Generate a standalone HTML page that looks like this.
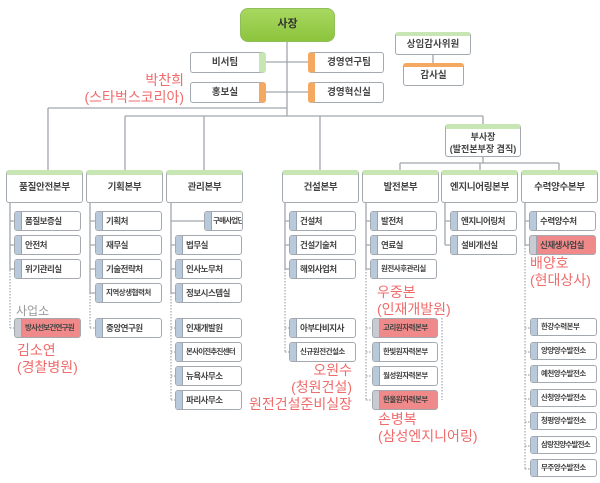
<!DOCTYPE html>
<html><head><meta charset="utf-8"><style>
*{margin:0;padding:0;box-sizing:border-box}
body{width:600px;height:483px;background:#fff;position:relative;overflow:hidden;font-family:"Liberation Sans","Noto Sans CJK KR",sans-serif;color:#333}
svg{position:absolute;left:0;top:0}
.b{position:absolute;height:20px;width:67px;border:1px solid #a4a9b0;border-radius:3px;background:#fff;font-size:8.5px;line-height:18px;padding-left:10px;white-space:nowrap;overflow:hidden;letter-spacing:-0.5px;font-weight:bold;color:#444}
.b:before{content:"";position:absolute;left:0;top:0;bottom:0;width:6px;background:#b9c9dc;border-right:1px solid #9aa4b0}
.p{background:#f08a8a}
.p:before{background:#c8ccd2}
.d{position:absolute;top:170px;height:33px;width:77px;border:1px solid #a4a9b0;border-top:5px solid #c8e6b4;border-radius:3px;background:#fff;text-align:center;font-size:9.5px;line-height:26px;font-weight:bold;color:#444;white-space:nowrap;letter-spacing:-0.3px}
.t{position:absolute;height:21px;width:76px;border:1px solid #a4a9b0;border-radius:3px;background:#fff;text-align:center;font-size:9.5px;line-height:19px;font-weight:bold;color:#444}
.r{position:absolute;color:#f06b6b;font-size:14px;line-height:17px;white-space:nowrap}
.s{font-size:7.5px}
</style></head><body>
<svg width="600" height="483">
<g stroke="#a0a6ae" stroke-width="1.3" fill="none">
<path d="M287 42V116M266 62H308M266 92H308M48 108H287M48 108V170M125 116H483M125 116V170M204 116V170M320 116V170M483 116V124M433 55V63M483 157V163M400 163H559M400 163V170M480 163V170M559 163V170"/>
<path d="M10 203V270M10 221H14M10 245H14M10 269H14M90 203V293M90 221H95M90 245H95M90 269H95M90 293H95M171 203V293M171 221H204M171 245H175M171 269H175M171 293H175M285 203V269M285 221H289M285 245H289M285 269H289M366 203V269M366 221H370M366 245H370M366 269H370M445 203V245M445 221H450M445 245H450M525 203V245M525 221H529M525 245H529"/>
</g>
<g stroke="#a0a6ae" stroke-width="1.2" fill="none" stroke-dasharray="1.5 1.5">
<path d="M10 270V328M10 328H14M90 293V328M90 328H95M171 293V400M171 328H175M171 352H175M171 376H175M171 400H175M285 269V352M285 328H289M285 352H289M366 269V400M366 328H372M366 352H372M366 376H372M366 400H372M442 318V400M525 245V469M525 328H530M525 352H530M525 375H530M525 399H530M525 422H530M525 446H530M525 469H530"/>
</g>
</svg>
<div style="position:absolute;left:240px;top:8px;width:95px;height:34px;border:1.5px solid #8fbf5a;border-radius:8px;background:linear-gradient(#a8d860,#8cc43c);text-align:center;line-height:31px;font-size:11px;font-weight:bold;color:#333">사장</div>
<div class="t" style="left:190px;top:52px;border-right:7px solid #c8e6b4">비서팀</div>
<div class="t p" style="left:190px;top:82px;border-right:7px solid #f5a860">홍보실</div>
<div class="t" style="left:308px;top:52px;border-left:7px solid #f5a860">경영연구팀</div>
<div class="t" style="left:308px;top:82px;border-left:7px solid #f5a860">경영혁신실</div>
<div class="t" style="left:395px;top:32px;height:23px;border-top:4px solid #c8e6b4;line-height:17px">상임감사위원</div>
<div class="t" style="left:403px;top:63px;width:61px;height:23px;border-top:4px solid #f5a860;line-height:17px">감사실</div>
<div class="t" style="left:445px;top:124px;height:33px;border-top:5px solid #c8e6b4;line-height:12px;padding-top:2px;font-size:9px">부사장<br>(발전본부장 겸직)</div>

<div class="d" style="left:6px">품질안전본부</div>
<div class="d" style="left:86px">기획본부</div>
<div class="d" style="left:166px">관리본부</div>
<div class="d" style="left:282px">건설본부</div>
<div class="d" style="left:362px">발전본부</div>
<div class="d" style="left:441px">엔지니어링본부</div>
<div class="d" style="left:521px">수력양수본부</div>

<div class="b" style="left:14px;top:211px">품질보증실</div>
<div class="b" style="left:14px;top:235px">안전처</div>
<div class="b" style="left:14px;top:259px">위기관리실</div>
<div class="b p s" style="left:14px;top:318px;letter-spacing:-0.8px">방사선보건연구원</div>

<div class="b" style="left:95px;top:211px">기획처</div>
<div class="b" style="left:95px;top:235px">재무실</div>
<div class="b" style="left:95px;top:259px">기술전략처</div>
<div class="b s" style="left:95px;top:283px">지역상생협력처</div>
<div class="b" style="left:95px;top:318px">중앙연구원</div>

<div class="b s" style="left:204px;top:211px;width:39px;padding-left:8px;letter-spacing:-0.8px">구매사업단</div>
<div class="b" style="left:175px;top:235px">법무실</div>
<div class="b" style="left:175px;top:259px">인사노무처</div>
<div class="b" style="left:175px;top:283px">정보시스템실</div>
<div class="b" style="left:175px;top:318px">인재개발원</div>
<div class="b s" style="left:175px;top:342px;letter-spacing:-0.8px">본사이전추진센터</div>
<div class="b" style="left:175px;top:366px">뉴욕사무소</div>
<div class="b" style="left:175px;top:390px">파리사무소</div>

<div class="b" style="left:289px;top:211px">건설처</div>
<div class="b" style="left:289px;top:235px">건설기술처</div>
<div class="b" style="left:289px;top:259px">해외사업처</div>
<div class="b" style="left:289px;top:318px">아부다비지사</div>
<div class="b s" style="left:289px;top:342px">신규원전건설소</div>

<div class="b" style="left:370px;top:211px">발전처</div>
<div class="b" style="left:370px;top:235px">연료실</div>
<div class="b s" style="left:370px;top:259px">원전사후관리실</div>
<div class="b p s" style="left:372px;top:318px;width:66px">고리원자력본부</div>
<div class="b s" style="left:372px;top:342px;width:66px">한빛원자력본부</div>
<div class="b s" style="left:372px;top:366px;width:66px">월성원자력본부</div>
<div class="b p s" style="left:372px;top:390px;width:66px">한울원자력본부</div>

<div class="b" style="left:450px;top:211px">엔지니어링처</div>
<div class="b" style="left:450px;top:235px">설비개선실</div>

<div class="b" style="left:529px;top:211px">수력양수처</div>
<div class="b p" style="left:529px;top:235px">신재생사업실</div>
<div class="b s" style="left:530px;top:318px;height:18px;line-height:16px">한강수력본부</div>
<div class="b s" style="left:530px;top:342px;height:18px;line-height:16px">양양양수발전소</div>
<div class="b s" style="left:530px;top:365px;height:18px;line-height:16px">예천양수발전소</div>
<div class="b s" style="left:530px;top:389px;height:18px;line-height:16px">산청양수발전소</div>
<div class="b s" style="left:530px;top:412px;height:18px;line-height:16px">청평양수발전소</div>
<div class="b s" style="left:530px;top:436px;height:18px;line-height:16px;letter-spacing:-0.8px">삼랑진양수발전소</div>
<div class="b s" style="left:530px;top:459px;height:18px;line-height:16px">무주양수발전소</div>

<div style="position:absolute;left:16px;top:302px;font-size:12px;color:#999">사업소</div>
<div class="r" style="right:416px;top:72px;text-align:right">박찬희<br>(스타벅스코리아)</div>
<div class="r" style="left:17px;top:342px">김소연<br>(경찰병원)</div>
<div class="r" style="right:248px;top:362px;text-align:right">오원수<br>(청원건설)<br>원전건설준비실장</div>
<div class="r" style="left:377px;top:284px">우중본<br>(인재개발원)</div>
<div class="r" style="left:378px;top:411px">손병복<br>(삼성엔지니어링)</div>
<div class="r" style="left:530px;top:255px">배양호<br>(현대상사)</div>
</body></html>
